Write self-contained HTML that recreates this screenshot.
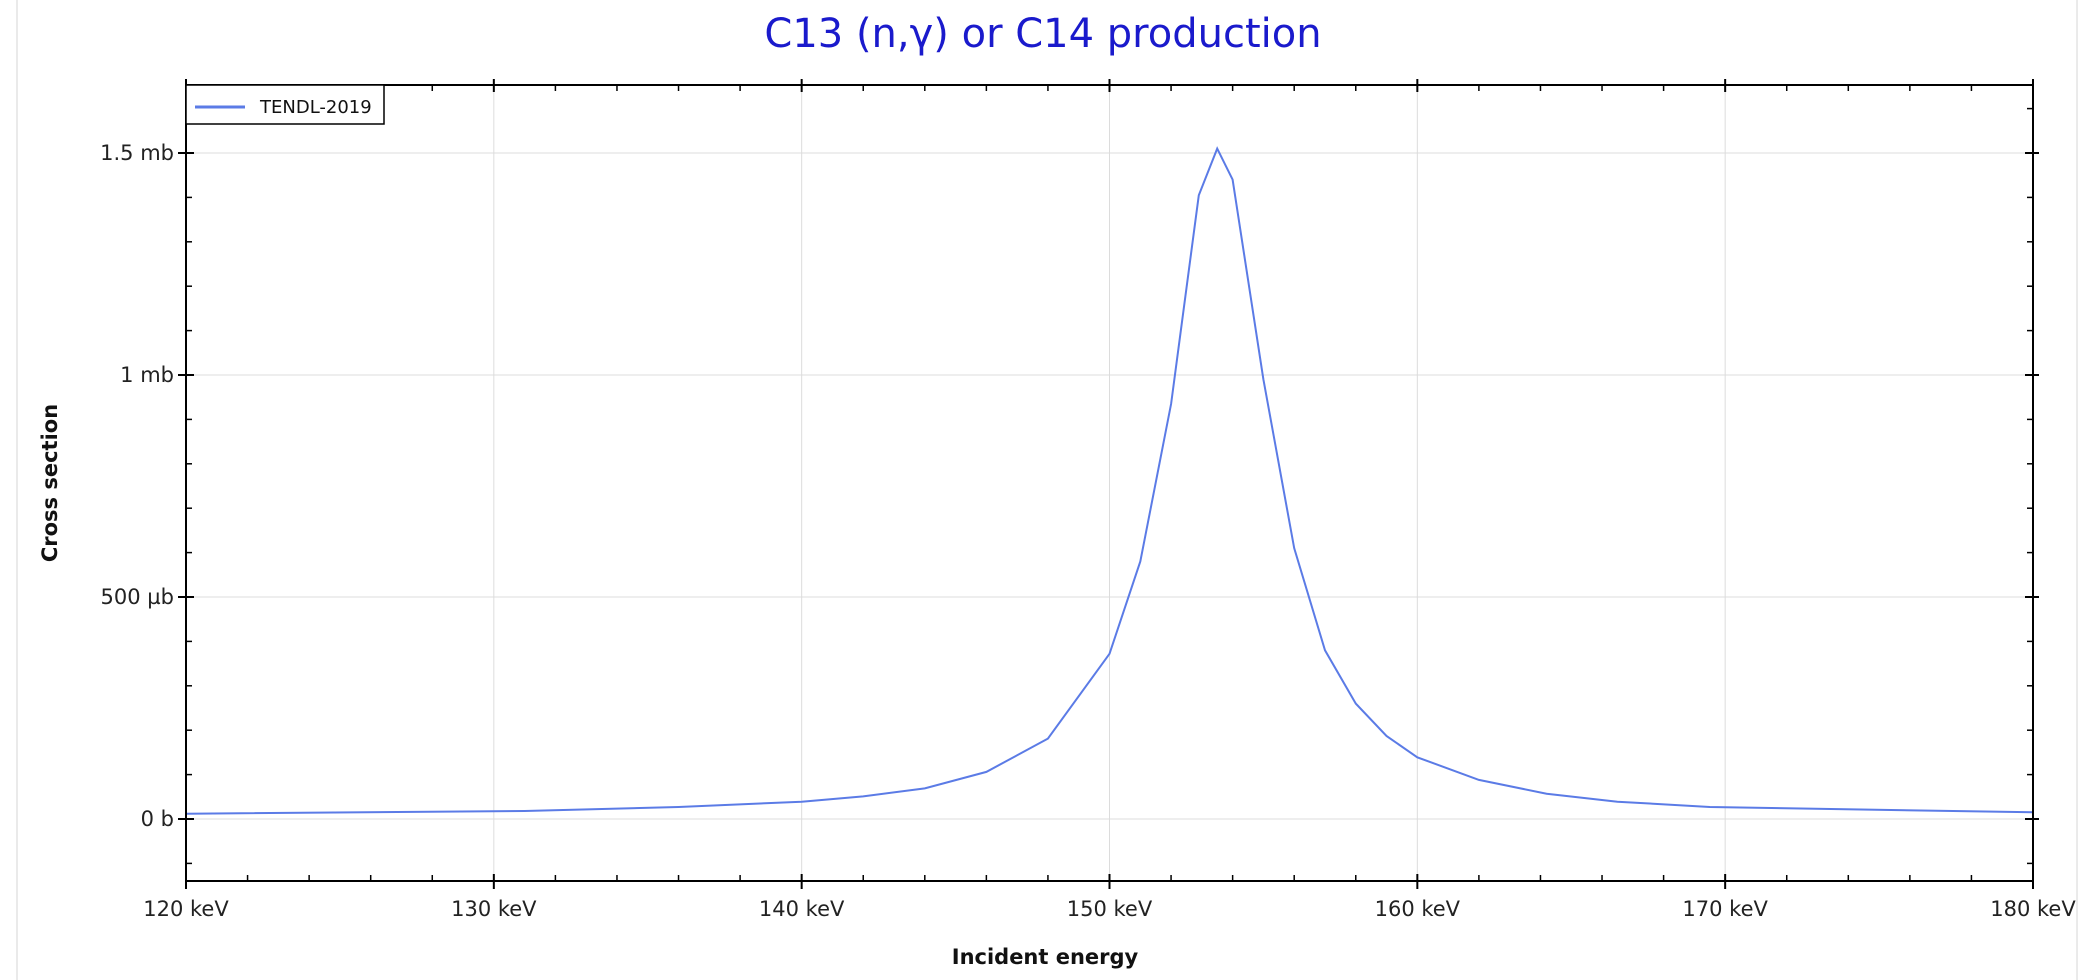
<!DOCTYPE html>
<html><head><meta charset="utf-8"><style>
body{margin:0;background:#fff;}
svg{display:block;font-family:"DejaVu Sans","Liberation Sans",sans-serif;}
</style></head><body>
<svg width="2096" height="980">
<rect x="17" y="-2" width="2060" height="990" fill="#fff" stroke="#e4e4e4" stroke-width="1.5"/>
<text x="1043" y="47" font-size="40" fill="#1a1acc" text-anchor="middle">C13 (n,γ) or C14 production</text>
<g id="grid"></g>
<g id="ticks"></g>
<path id="series" fill="none" stroke="#5b7be6" stroke-width="2"/>
<rect x="186" y="85" width="1847" height="796" fill="none" stroke="#000" stroke-width="2"/>
<g>
<rect x="186" y="85" width="198" height="39" fill="#fff" stroke="#000" stroke-width="1.5"/>
<line x1="195" y1="107" x2="245" y2="107" stroke="#5b7be6" stroke-width="3"/>
<text x="260" y="113" font-size="18" fill="#111">TENDL-2019</text>
</g>
<text transform="translate(57,483) rotate(-90)" font-size="21" font-weight="bold" text-anchor="middle" fill="#111">Cross section</text>
<text x="1045" y="964" font-size="21" font-weight="bold" text-anchor="middle" fill="#111">Incident energy</text>
</svg>
<script>
const energies=[120,131,136,140,142,144,146,148,150,151,152,152.9,153.5,154,155,156,157,158,159,160,162,164.2,166.5,169.5,180];
const xsMb=[0.012,0.018,0.027,0.039,0.051,0.069,0.106,0.181,0.372,0.58,0.935,1.405,1.51,1.44,0.99,0.61,0.38,0.26,0.187,0.139,0.088,0.057,0.039,0.027,0.015];
const xTicks=[120,130,140,150,160,170,180];
const xTickLabels=["120 keV","130 keV","140 keV","150 keV","160 keV","170 keV","180 keV"];
const yTicks=[0,0.5,1,1.5];
const yTickLabels=["0 b","500 µb","1 mb","1.5 mb"];
const X0=186,X1=2033,Y0=85,Y1=881;
const xs=v=>X0+(v-120)/60*(X1-X0);
const ys=v=>819-v*444;
const NS="http://www.w3.org/2000/svg";
function mk(t,a,p){const e=document.createElementNS(NS,t);for(const k in a)e.setAttribute(k,a[k]);p.appendChild(e);return e;}
const grid=document.getElementById('grid'),ticks=document.getElementById('ticks');
xTicks.forEach((v,i)=>{const x=xs(v);
 const g=mk('line',{x1:x,y1:Y0,x2:x,y2:Y1,stroke:'#dcdcdc','stroke-width':1},grid);
 
 
 mk('line',{x1:x,y1:Y1-7,x2:x,y2:Y1+8,stroke:'#000','stroke-width':2},ticks);
 mk('line',{x1:x,y1:Y0-6,x2:x,y2:Y0+7,stroke:'#000','stroke-width':2},ticks);
 const t=mk('text',{x:x,y:916,'font-size':21,'text-anchor':'middle',fill:'#222'},ticks);
 t.textContent=xTickLabels[i];
 
 
});
for(let v=122;v<180;v+=2){if(v%10===0)continue;const x=xs(v);
 mk('line',{x1:x,y1:Y1-6,x2:x,y2:Y1,stroke:'#000','stroke-width':1.5},ticks);
 mk('line',{x1:x,y1:Y0,x2:x,y2:Y0+6,stroke:'#000','stroke-width':1.5},ticks);}
yTicks.forEach((v,i)=>{const y=ys(v);
 const g=mk('line',{x1:X0,y1:y,x2:X1,y2:y,stroke:'#dcdcdc','stroke-width':1},grid);
 
 
 mk('line',{x1:X0-8,y1:y,x2:X0+8,y2:y,stroke:'#000','stroke-width':2},ticks);
 mk('line',{x1:X1-8,y1:y,x2:X1+6,y2:y,stroke:'#000','stroke-width':2},ticks);
 const t=mk('text',{x:X0-12,y:y+7,'font-size':21,'text-anchor':'end',fill:'#222'},ticks);
 t.textContent=yTickLabels[i];
 
 
});
for(let v=-0.2;v<1.65;v+=0.1){const r=Math.round(v*10);if(r%5===0)continue;const y=ys(r/10);if(y<Y0||y>Y1)continue;
 mk('line',{x1:X0,y1:y,x2:X0+6,y2:y,stroke:'#000','stroke-width':1.5},ticks);
 mk('line',{x1:X1-6,y1:y,x2:X1,y2:y,stroke:'#000','stroke-width':1.5},ticks);}
document.getElementById('series').setAttribute('d',energies.map((e,i)=>(i?'L':'M')+xs(e).toFixed(1)+','+ys(xsMb[i]).toFixed(1)).join(''));
</script>
</body></html>
